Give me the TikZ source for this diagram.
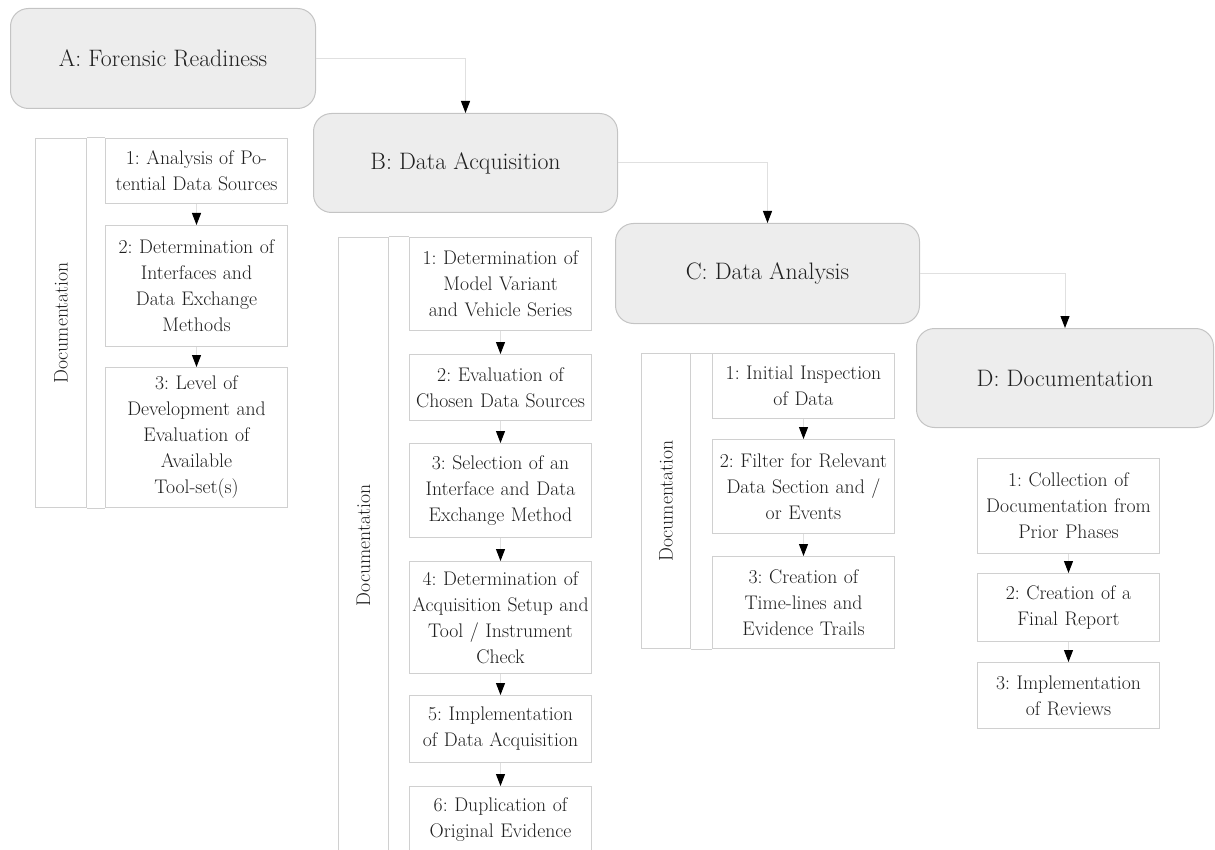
\documentclass[tikz,border=0pt]{standalone}
\usetikzlibrary{arrows.meta}

\definecolor{hdrfill}{HTML}{EDEDED}
\definecolor{hdrline}{HTML}{C4C4C4}
\definecolor{boxline}{HTML}{D0D0D0}
\definecolor{connline}{HTML}{E0E0E0}
\definecolor{inkgray}{HTML}{1F1F1F}

\begin{document}
\frenchspacing
\begin{tikzpicture}[x=1pt,y=-1pt,
  phase/.style={draw=hdrline, fill=hdrfill, line width=1pt, rounded corners=18pt,
    anchor=north west, text=inkgray, font=\fontsize{23.8}{28}\selectfont},
  task/.style={draw=boxline, fill=white, line width=1pt, anchor=north west,
    text width=180pt, inner xsep=1pt, inner ysep=0pt, align=center, text=inkgray,
    font=\fontsize{19.7}{26}\selectfont},
  docbar/.style={draw=boxline, line width=1pt, anchor=north west},
  doclabel/.style={rotate=90, text=inkgray, font=\fontsize{19.7}{26}\selectfont},
  frameline/.style={draw=boxline, line width=1pt},
  conn/.style={draw=connline, line width=1pt,
    -{Triangle[length=12pt,width=9pt,color=black]}},
]
\path[use as bounding box] (0,0) rectangle (1215,850);
\clip (0,0) rectangle (1215,850);

% phase headers
\node[phase, minimum width=305pt, minimum height=100pt] (A) at (10,8) {A: Forensic Readiness};
\node[phase, minimum width=304pt, minimum height=99pt] (B) at (313,113) {B: Data Acquisition};
\node[phase, minimum width=304pt, minimum height=100pt] (C) at (615,223) {C: Data Analysis};
\node[phase, minimum width=297pt, minimum height=99pt] (D) at (916,328) {D: Documentation};

\draw[conn] (A.east) -| (B.north);
\draw[conn] (B.east) -| (C.north);
\draw[conn] (C.east) -| (D.north);

% phase A steps
\node[docbar, minimum width=51pt, minimum height=369pt] (docA) at (35,138) {};
\node[doclabel] at (docA.center) {Documentation};
\node[task, minimum height=65pt] (a1) at (105,138) {1: Analysis of Po-\\tential Data Sources};
\node[task, minimum height=121pt] (a2) at (105,225) {2: Determination of\\Interfaces and\\Data Exchange\\Methods};
\node[task, minimum height=140pt] (a3) at (105,367) {3: Level of\\Development and\\Evaluation of\\Available\\Tool-set(s)};
\draw[frameline] (docA.north east) -- (a1.north west);
\draw[frameline] (docA.south east) -- (a3.south west);
\draw[conn] (a1.south) -- (a2.north);
\draw[conn] (a2.south) -- (a3.north);

% phase B steps
\node[docbar, minimum width=50pt, minimum height=616pt] (docB) at (338,237) {};
\node[doclabel] at (docB.center) {Documentation};
\node[task, minimum height=93pt] (b1) at (409,237) {1: Determination of\\Model Variant\\and Vehicle Series};
\node[task, minimum height=66pt] (b2) at (409,354) {2: Evaluation of\\Chosen Data Sources};
\node[task, minimum height=94pt] (b3) at (409,443) {3: Selection of an\\Interface and Data\\Exchange Method};
\node[task, minimum height=112pt] (b4) at (409,561) {4: Determination of\\Acquisition Setup and\\Tool / Instrument\\Check};
\node[task, minimum height=67pt] (b5) at (409,695) {5: Implementation\\of Data Acquisition};
\node[task, minimum height=67pt] (b6) at (409,786) {6: Duplication of\\Original Evidence};
\draw[frameline] (docB.north east) -- (b1.north west);
\draw[frameline] (docB.south east) -- (b6.south west);
\draw[conn] (b1.south) -- (b2.north);
\draw[conn] (b2.south) -- (b3.north);
\draw[conn] (b3.south) -- (b4.north);
\draw[conn] (b4.south) -- (b5.north);
\draw[conn] (b5.south) -- (b6.north);

% phase C steps
\node[docbar, minimum width=49pt, minimum height=295pt] (docC) at (641,353) {};
\node[doclabel] at (docC.center) {Documentation};
\node[task, minimum height=65pt] (c1) at (712,353) {1: Initial Inspection\\of Data};
\node[task, minimum height=94pt] (c2) at (712,439) {2: Filter for Relevant\\Data Section and /\\or Events};
\node[task, minimum height=92pt] (c3) at (712,556) {3: Creation of\\Time-lines and\\Evidence Trails};
\draw[frameline] (docC.north east) -- (c1.north west);
\draw[frameline] (docC.south east) -- (c3.south west);
\draw[conn] (c1.south) -- (c2.north);
\draw[conn] (c2.south) -- (c3.north);

% phase D steps
\node[task, minimum height=95pt] (d1) at (977,458) {1: Collection of\\Documentation from\\Prior Phases};
\node[task, minimum height=68pt] (d2) at (977,573) {2: Creation of a\\Final Report};
\node[task, minimum height=66pt] (d3) at (977,662) {3: Implementation\\of Reviews};
\draw[conn] (d1.south) -- (d2.north);
\draw[conn] (d2.south) -- (d3.north);
\end{tikzpicture}
\end{document}
